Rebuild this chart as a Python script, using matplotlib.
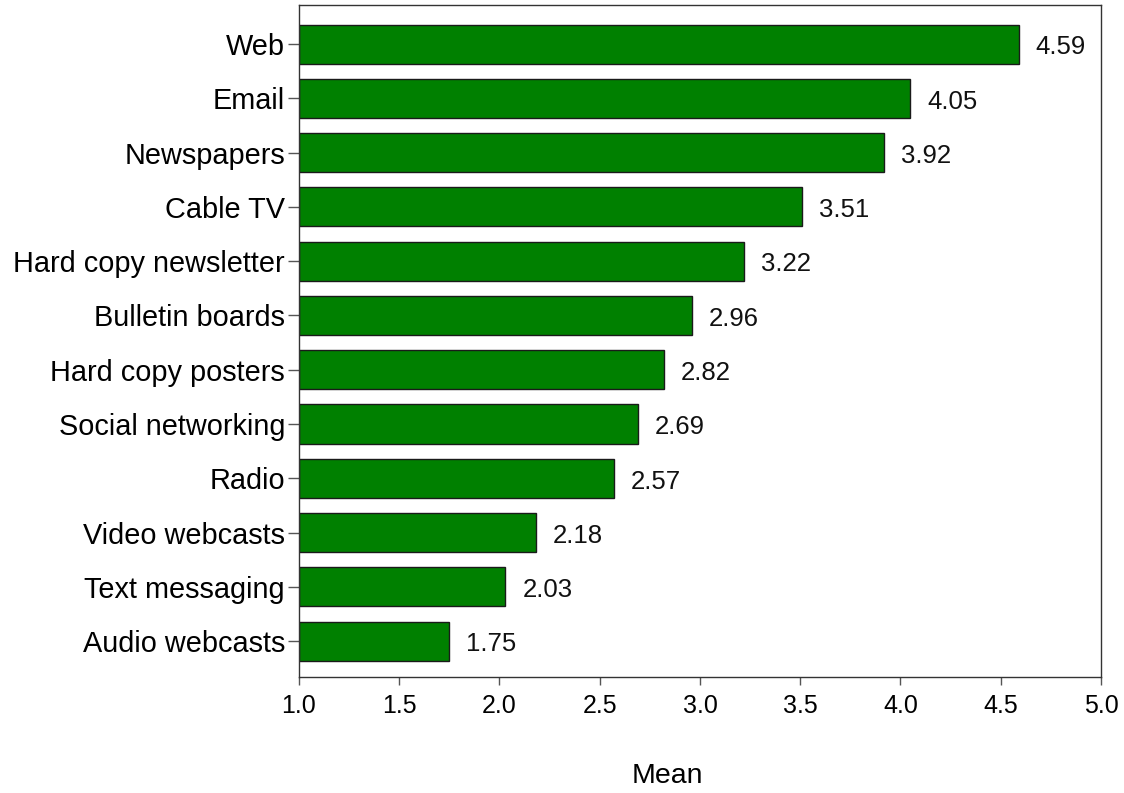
import numpy as np
import matplotlib.pyplot as plt

plt.rcParams['font.family'] = ['Liberation Sans', 'DejaVu Sans']

# survey means, listed bottom to top
sources = ['Audio webcasts', 'Text messaging', 'Video webcasts', 'Radio',
           'Social networking', 'Hard copy posters', 'Bulletin boards',
           'Hard copy newsletter', 'Cable TV', 'Newspapers', 'Email', 'Web']
means = [1.75, 2.03, 2.18, 2.57, 2.69, 2.82, 2.96, 3.22, 3.51, 3.92, 4.05, 4.59]
xticks = [1.0, 1.5, 2.0, 2.5, 3.0, 3.5, 4.0, 4.5, 5.0]

base = 1.0
fig = plt.figure(figsize=(11.24, 7.93), dpi=100)
ax = fig.add_axes([0.266, 0.1463, 0.7135, 0.8474])

pos = np.arange(len(sources))
widths = [m - base for m in means]
ax.barh(pos, widths, left=base, height=0.72, color='#008000',
        edgecolor='#1a1a1a', linewidth=1.0, zorder=2)

for y, m in zip(pos, means):
    ax.text(m + 0.085, y - 0.06, f'{m:.2f}', va='center', ha='left',
            fontsize=18.5, color='#111111')

ax.set_xlim(1.0, 5.0)
ax.set_ylim(-0.66, len(sources) - 1 + 0.72)
ax.set_xticks(xticks)
ax.set_xticklabels([f'{t:.1f}' for t in xticks], fontsize=18)
ax.set_yticks(pos)
ax.set_yticklabels(sources, fontsize=20.8)

ax.tick_params(axis='y', length=8, width=1, color='#555555', pad=2)
ax.tick_params(axis='x', length=6, width=1, color='#555555', pad=6)
for s in ax.spines.values():
    s.set_color('#333333')
    s.set_linewidth(1.0)

fig.text(667 / 1124, 1 - 776 / 793, 'Mean', ha='center', va='center', fontsize=20.5)

fig.savefig('out.png', dpi=100)
